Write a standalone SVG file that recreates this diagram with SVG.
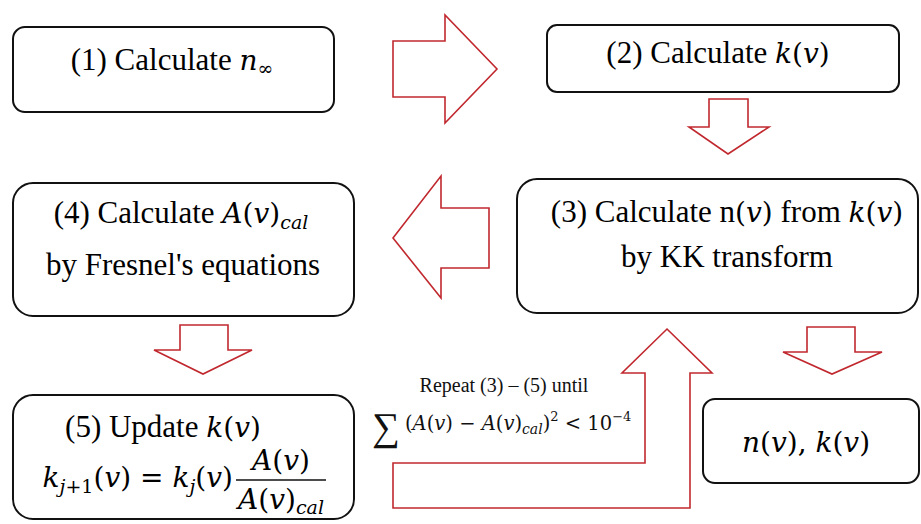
<svg xmlns="http://www.w3.org/2000/svg" width="921" height="524" viewBox="0 0 921 524">
<style>
.box{fill:#fff;stroke:#111;stroke-width:2}
.arr{fill:#fff;stroke:#c0282e;stroke-width:1.6;stroke-linejoin:miter}
.t{font-family:"Liberation Serif",serif;font-size:31px;fill:#000;text-anchor:middle}
.m{font-family:"DejaVu Serif",serif;font-size:28px;font-style:italic}
.p{font-family:"DejaVu Serif",serif;font-size:28px;font-style:normal}
.s{font-family:"DejaVu Serif",serif;font-size:19px;font-style:italic}
.su{font-family:"DejaVu Serif",serif;font-size:19px;font-style:normal}
.lab{font-family:"Liberation Serif",serif;fill:#111}
.eq{font-family:"DejaVu Serif",serif;fill:#111;font-size:19.5px}
.ei{font-style:italic}
</style>
<rect width="921" height="524" fill="#fff"/>
<g id="connectors">
<polygon class="arr" points="393,41 445,41 445,15 497,69 445,123 445,97 393,97"/>
<polygon class="arr" points="709,99 748,99 748,127 769,127 728,154 689,127 709,127"/>
<polygon class="arr" points="489,208 441,208 441,176 393,238 441,298 441,268 489,268"/>
<polygon class="arr" points="180,325 228,325 228,350 252,350 203,374 154,350 180,350"/>
<polygon class="arr" points="807,327 855,327 855,352 882,352 832,374 783,352 807,352"/>
<polygon class="arr" points="667,329 712,373 690,373 690,508 393,508 393,463 645,463 645,373 622,373"/>
<g id="loop-label">
<text class="lab" x="504" y="392" font-size="20" text-anchor="middle">Repeat (3) – (5) until</text>
<text class="lab" x="372" y="440" font-size="39">∑</text>
<text class="eq" x="405" y="430">(<tspan class="ei">A</tspan>(<tspan class="ei">v</tspan>) − <tspan class="ei">A</tspan>(<tspan class="ei">v</tspan>)<tspan class="ei" font-size="14" dy="4">cal</tspan><tspan dy="-4">)</tspan><tspan font-size="13" dy="-9">2</tspan><tspan dy="9"> &lt; 10</tspan><tspan font-size="13" dy="-9">−4</tspan></text>
</g>
</g>
<g id="node1">
<rect class="box" x="13" y="27" width="321" height="85" rx="12"/>
<text class="t" x="172" y="70">(1) Calculate <tspan class="m">n</tspan><tspan class="su" dy="5">∞</tspan></text>
</g>
<g id="node2">
<rect class="box" x="547" y="25" width="352" height="67" rx="10"/>
<text class="t" x="718" y="63">(2) Calculate <tspan class="m">k</tspan><tspan class="p">(</tspan><tspan class="m">v</tspan><tspan class="p">)</tspan></text>
</g>
<g id="node3">
<rect class="box" x="517" y="179" width="401" height="134" rx="20"/>
<text class="t" x="727" y="222">(3) Calculate n<tspan class="p">(</tspan><tspan class="m">v</tspan><tspan class="p">)</tspan> from <tspan class="m">k</tspan><tspan class="p">(</tspan><tspan class="m">v</tspan><tspan class="p">)</tspan></text>
<text class="t" x="727" y="267">by KK transform</text>
</g>
<g id="node4">
<rect class="box" x="13" y="183" width="341" height="133" rx="20"/>
<text class="t" x="181" y="223">(4) Calculate <tspan class="m">A</tspan><tspan class="p">(</tspan><tspan class="m">v</tspan><tspan class="p">)</tspan><tspan class="s" dy="6">cal</tspan></text>
<text class="t" x="183" y="275">by Fresnel's  equations</text>
</g>
<g id="node5">
<rect class="box" x="13" y="395" width="341" height="124" rx="20"/>
<text class="t" x="163" y="437">(5) Update <tspan class="m">k</tspan><tspan class="p">(</tspan><tspan class="m">v</tspan><tspan class="p">)</tspan></text>
<text class="t" x="233" y="487" style="text-anchor:end"><tspan class="m">k</tspan><tspan class="s" dy="6">j</tspan><tspan class="su">+1</tspan><tspan class="p" dy="-6">(</tspan><tspan class="m">v</tspan><tspan class="p">) = </tspan><tspan class="m">k</tspan><tspan class="s" dy="6">j</tspan><tspan class="p" dy="-6">(</tspan><tspan class="m">v</tspan><tspan class="p">)</tspan></text>
<line x1="236" y1="480" x2="326" y2="480" stroke="#111" stroke-width="1.6"/>
<text class="t" x="281" y="470"><tspan class="m">A</tspan><tspan class="p">(</tspan><tspan class="m">v</tspan><tspan class="p">)</tspan></text>
<text class="t" x="281" y="509"><tspan class="m">A</tspan><tspan class="p">(</tspan><tspan class="m">v</tspan><tspan class="p">)</tspan><tspan class="s" dy="5">cal</tspan></text>
</g>
<g id="node6">
<rect class="box" x="703" y="399" width="216" height="84" rx="12"/>
<text class="t" x="806" y="452"><tspan class="m">n</tspan><tspan class="p">(</tspan><tspan class="m">v</tspan><tspan class="p">), </tspan><tspan class="m">k</tspan><tspan class="p">(</tspan><tspan class="m">v</tspan><tspan class="p">)</tspan></text>
</g>
</svg>
